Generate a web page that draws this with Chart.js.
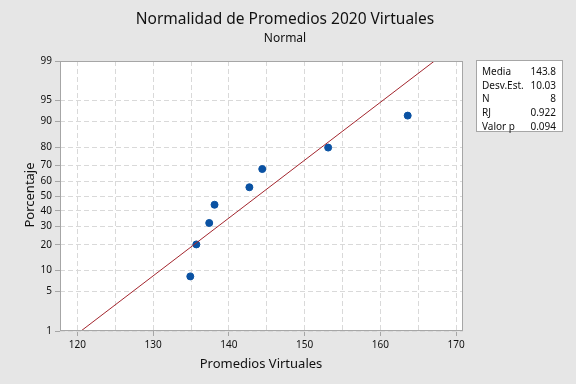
<!DOCTYPE html>
<html>
<head>
<meta charset="utf-8">
<script src="https://cdn.jsdelivr.net/npm/chart.js@4/dist/chart.umd.min.js"></script>
<style>
  html, body { margin: 0; padding: 0; background: #e6e6e6; }
  #wrap { width: 576px; height: 384px; }
</style>
</head>
<body>
<div id="wrap"><canvas id="plot" width="576" height="384"></canvas></div>
<script>
// valores
const promedios = [134.9, 135.7, 137.4, 138.1, 142.7, 144.4, 153.1, 163.6];
const porcentajes = [8.3, 20.2, 32.1, 44.0, 56.0, 67.9, 79.8, 91.7];
const ajusteX = [120.47, 167.13];
const ajustePct = [1, 99];
const yTicks = [1, 5, 10, 20, 30, 40, 50, 60, 70, 80, 90, 95, 99];
const xTicks = [120, 125, 130, 135, 140, 145, 150, 155, 160, 165, 170];
const statLabels = ["Media", "Desv.Est.", "N", "RJ", "Valor p"];
const statValues = ["143.8", "10.03", "8", "0.922", "0.094"];

// inversa de la normal (Acklam)
function probit(p) {
  const a = [-39.6968302866538, 220.946098424521, -275.928510446969, 138.357751867269, -30.6647980661472, 2.50662827745924];
  const b = [-54.4760987982241, 161.585836858041, -155.698979859887, 66.8013118877197, -13.2806815528857];
  const c = [-0.00778489400243029, -0.322396458041136, -2.40075827716184, -2.54973253934373, 4.37466414146497, 2.93816398269878];
  const d = [0.00778469570904146, 0.32246712907004, 2.445134137143, 3.75440866190742];
  const pl = 0.02425;
  let q, r;
  if (p < pl) {
    q = Math.sqrt(-2 * Math.log(p));
    return (((((c[0]*q+c[1])*q+c[2])*q+c[3])*q+c[4])*q+c[5]) / ((((d[0]*q+d[1])*q+d[2])*q+d[3])*q+1);
  }
  if (p > 1 - pl) {
    q = Math.sqrt(-2 * Math.log(1 - p));
    return -(((((c[0]*q+c[1])*q+c[2])*q+c[3])*q+c[4])*q+c[5]) / ((((d[0]*q+d[1])*q+d[2])*q+d[3])*q+1);
  }
  q = p - 0.5;
  r = q * q;
  return (((((a[0]*r+a[1])*r+a[2])*r+a[3])*r+a[4])*r+a[5])*q / (((((b[0]*r+b[1])*r+b[2])*r+b[3])*r+b[4])*r+1);
}

const FONT = "'Noto Sans', 'Open Sans', sans-serif";
const TXT = "#111111";

const decor = {
  id: "decor",
  beforeDraw(chart) {
    const { ctx, chartArea: a } = chart;
    ctx.save();
    ctx.fillStyle = "#e6e6e6";
    ctx.fillRect(0, 0, chart.width, chart.height);
    ctx.fillStyle = "#ffffff";
    ctx.fillRect(a.left, a.top, a.right - a.left, a.bottom - a.top);
    ctx.restore();
  },
  afterDraw(chart) {
    const { ctx, chartArea: a } = chart;
    ctx.save();
    ctx.strokeStyle = "#a6a6a6";
    ctx.lineWidth = 1;
    ctx.strokeRect(a.left + 0.5, a.top + 0.5, a.right - a.left - 1, a.bottom - a.top - 1);

    ctx.fillStyle = TXT;
    ctx.textAlign = "center";
    ctx.textBaseline = "middle";
    ctx.font = "15.5px " + FONT;
    ctx.fillText("Normalidad de Promedios 2020 Virtuales", 285, 20);
    ctx.font = "12px " + FONT;
    ctx.fillText("Normal", 285, 39);

    ctx.font = "13px " + FONT;
    ctx.fillText("Promedios Virtuales", 261, 364);
    ctx.save();
    ctx.translate(30, 195);
    ctx.rotate(-Math.PI / 2);
    ctx.fillText("Porcentaje", 0, 0);
    ctx.restore();

    // cuadro de estadisticos
    ctx.fillStyle = "#ffffff";
    ctx.fillRect(476, 60, 87, 72);
    ctx.strokeStyle = "#a6a6a6";
    ctx.strokeRect(476.5, 60.5, 86, 71);
    ctx.font = "10px " + FONT;
    ctx.fillStyle = TXT;
    statLabels.forEach((s, i) => {
      const y = 72 + i * 13.7;
      ctx.textAlign = "left";
      ctx.fillText(s, 482, y);
      ctx.textAlign = "right";
      ctx.fillText(statValues[i], 556, y);
    });
    ctx.restore();
  }
};

const ctx = document.getElementById("plot").getContext("2d");

new Chart(ctx, {
  type: "scatter",
  data: {
    datasets: [
      {
        type: "line",
        data: ajusteX.map((x, i) => ({ x: x, y: probit(ajustePct[i] / 100) })),
        borderColor: "#a3262e",
        borderWidth: 1,
        pointRadius: 0,
        fill: false
      },
      {
        data: promedios.map((x, i) => ({ x: x, y: probit(porcentajes[i] / 100) })),
        backgroundColor: "#0a52a3",
        borderColor: "#0a52a3",
        pointRadius: 3.5,
        pointHoverRadius: 3.5
      }
    ]
  },
  options: {
    responsive: false,
    animation: false,
    layout: { padding: { left: 0, top: 61, right: 113, bottom: 0 } },
    plugins: { legend: { display: false }, tooltip: { enabled: false } },
    scales: {
      x: {
        type: "linear",
        min: 117.7,
        max: 170.9,
        afterFit: (s) => { s.height = 53; },
        afterBuildTicks: (s) => { s.ticks = xTicks.map(v => ({ value: v })); },
        grid: {
          color: "#d9d9d9",
          lineWidth: 1,
          tickLength: 5,
          tickColor: (c) => (c.tick && c.tick.value % 10 === 0 ? "#a6a6a6" : "rgba(0,0,0,0)")
        },
        border: { display: false, dash: [5, 3] },
        ticks: {
          autoSkip: false,
          maxRotation: 0,
          padding: 3,
          color: TXT,
          font: { family: FONT, size: 10 },
          callback: (v) => (v % 10 === 0 ? v : "")
        }
      },
      y: {
        type: "linear",
        min: probit(0.01),
        max: probit(0.99),
        afterFit: (s) => { s.width = 60; },
        afterBuildTicks: (s) => { s.ticks = yTicks.map(p => ({ value: probit(p / 100) })); },
        grid: {
          color: "#d9d9d9",
          lineWidth: 1,
          tickLength: 5,
          tickColor: "#a6a6a6"
        },
        border: { display: false, dash: [5, 3] },
        ticks: {
          autoSkip: false,
          padding: 3,
          color: TXT,
          font: { family: FONT, size: 10 },
          callback: (v, i) => yTicks[i]
        }
      }
    }
  },
  plugins: [decor]
});
</script>
</body>
</html>
